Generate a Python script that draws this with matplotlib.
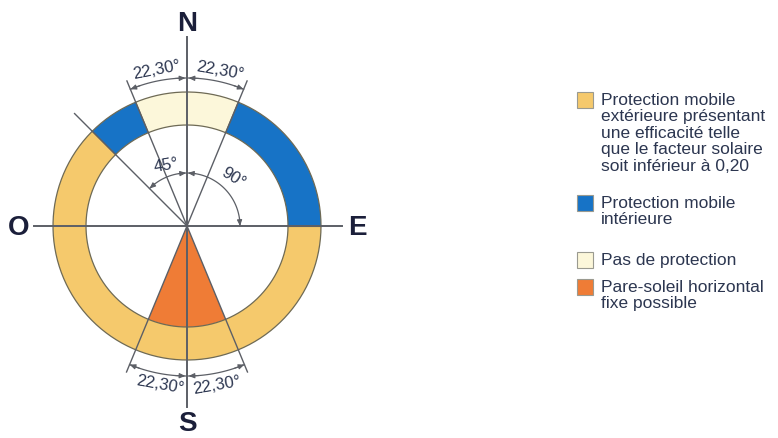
import numpy as np
import matplotlib
matplotlib.use('Agg')
import matplotlib.pyplot as plt
from matplotlib.patches import Wedge, Rectangle

plt.rcParams['font.family'] = ['Liberation Sans', 'DejaVu Sans']

# ring sectors, compass bearings in degrees (clockwise from north)
seg_from = [-22.5, 22.5, 90, -45]
seg_to = [22.5, 90, 315, -22.5]
seg_kind = ['none', 'interior', 'exterior', 'interior']

# fixed horizontal sun shade, south sector
shade_from = 157.5
shade_to = 202.5

# radial guide lines
guide_bearings = [-45, -22.5, 22.5, 157.5, 202.5]

# angle annotations
dim_labels = ['22,30°', '22,30°', '22,30°', '22,30°', '45°', '90°']

cardinals = ['N', 'E', 'S', 'O']

legend_kinds = ['exterior', 'interior', 'none', 'shade']
legend_texts = [
    'Protection mobile\nextérieure présentant\nune efficacité telle\nque le facteur solaire\nsoit inférieur à 0,20',
    'Protection mobile\nintérieure',
    'Pas de protection',
    'Pare-soleil horizontal\nfixe possible',
]

colors = {'exterior': '#F5C96C', 'interior': '#1773C6', 'none': '#FCF7DA', 'shade': '#EF7C36'}
edge = '#6e6a55'
line_c = '#5c5f66'
text_c = '#2c3650'
dark = '#1b1f3a'

W, H = 778, 439
fig = plt.figure(figsize=(W / 100, H / 100), dpi=100)
ax = fig.add_axes([0, 0, 1, 1])
ax.set_xlim(0, W)
ax.set_ylim(0, H)
ax.axis('off')

cx, cy = 187, H - 227
r_out, r_in = 134, 101


def ang(b):
    return 90 - b


def pt(b, r):
    a = np.radians(ang(b))
    return cx + r * np.cos(a), cy + r * np.sin(a)


for f, t, k in zip(seg_from, seg_to, seg_kind):
    ax.add_patch(Wedge((cx, cy), r_out, ang(t), ang(f), width=r_out - r_in,
                       facecolor=colors[k], edgecolor='none', zorder=1))
ax.add_patch(Wedge((cx, cy), r_in, ang(shade_to), ang(shade_from),
                   facecolor=colors['shade'], edgecolor='none', zorder=1))

# ring outlines
th = np.linspace(0, 2 * np.pi, 400)
for r in (r_out, r_in):
    ax.plot(cx + r * np.cos(th), cy + r * np.sin(th), color=edge, lw=0.9, zorder=2)

# sector borders across ring
for b in [-45, -22.5, 22.5, 90]:
    x0, y0 = pt(b, r_in)
    x1, y1 = pt(b, r_out)
    ax.plot([x0, x1], [y0, y1], color=edge, lw=0.8, zorder=2)

# axes cross
ax.plot([cx, cx], [H - 38, H - 408], color=line_c, lw=1.4, zorder=3)
ax.plot([34, 342], [cy, cy], color=line_c, lw=1.4, zorder=3)

for b, L in zip(guide_bearings, [159, 157, 157, 158, 158]):
    x1, y1 = pt(b, L)
    ax.plot([cx, x1], [cy, y1], color=line_c, lw=1.0, zorder=3)


def dim_arc(b0, b1, r, heads):
    bs = np.linspace(b0, b1, 60)
    xs, ys = zip(*[pt(b, r) for b in bs])
    ax.plot(xs, ys, color=line_c, lw=0.9, zorder=3)
    for hb, db in heads:
        ax.annotate('', xy=pt(hb, r), xytext=pt(hb + db, r),
                    arrowprops=dict(arrowstyle='-|>,head_length=0.35,head_width=0.15',
                                    color=line_c, lw=0.8, shrinkA=0, shrinkB=0), zorder=4)


dim_arc(-22.5, 22.5, 148, [(-22.5, 4), (-0.6, -4), (0.6, 4), (22.5, -4)])
dim_arc(157.5, 202.5, 150, [(157.5, 4), (179.4, -4), (180.6, 4), (202.5, -4)])
dim_arc(-45, 0, 53, [(-45, 8), (-1, -8)])
dim_arc(0, 90, 53, [(1, 8), (90, -8)])

dim_pos = [(157, 70, 11), (220, 71, -10), (160, 385, -10), (217, 385, 10), (166, 165, 10), (233, 178, -32)]
for lab, (x, y, rot) in zip(dim_labels, dim_pos):
    ax.text(x, H - y, lab, fontsize=12, color=text_c, rotation=rot,
            ha='center', va='center', zorder=5)

card_pos = [(187, 24), (357, 228), (187, 424), (19, 228)]
for lab, (x, y) in zip(cardinals, card_pos):
    ax.text(x, H - y, lab, fontsize=20, fontweight='bold', color=dark,
            ha='center', va='center', zorder=5)

# legend
box_y = [93, 196, 253, 280]
txt_y = [93, 196, 253, 280]
for k, txt, by, ty in zip(legend_kinds, legend_texts, box_y, txt_y):
    ax.add_patch(Rectangle((577, H - by - 16), 16, 16, facecolor=colors[k],
                           edgecolor='#9a9a90', lw=0.8, zorder=5))
    ax.text(601, H - ty, txt, fontsize=12.5, color=text_c, ha='left', va='top',
            linespacing=1.12, zorder=5)

fig.savefig('out.png', dpi=100, facecolor='white')
